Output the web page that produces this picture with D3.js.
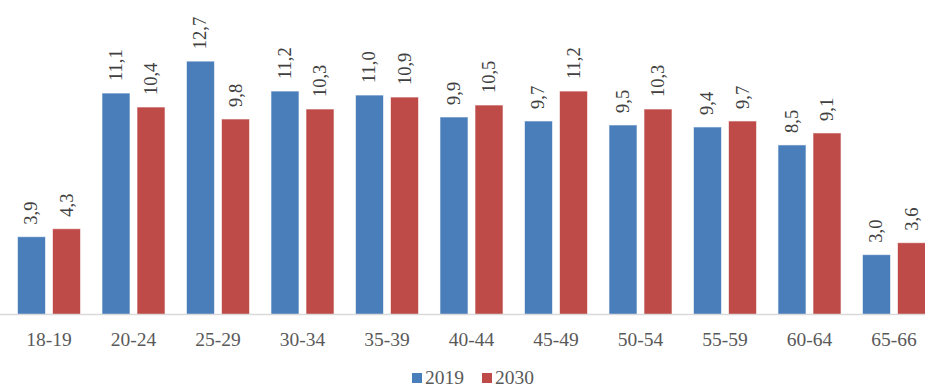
<!DOCTYPE html>
<html>
<head>
<meta charset="utf-8">
<script src="https://cdn.jsdelivr.net/npm/d3@7"></script>
<style>
  html, body { margin: 0; padding: 0; background: #fff; }
  svg { display: block; }
</style>
</head>
<body>
<svg id="chart" width="925" height="389"></svg>
<script>
// Age groups and shares (%) for the two years
const categories = ["18-19", "20-24", "25-29", "30-34", "35-39", "40-44", "45-49", "50-54", "55-59", "60-64", "65-66"];
const seriesNames = ["2019", "2030"];
const values2019 = [3.9, 11.1, 12.7, 11.2, 11.0, 9.9, 9.7, 9.5, 9.4, 8.5, 3.0];
const values2030 = [4.3, 10.4, 9.8, 10.3, 10.9, 10.5, 11.2, 10.3, 9.7, 9.1, 3.6];
const colors = ["#4A7EBB", "#BE4B48"];

const FONT = "Liberation Serif";
const svg = d3.select("#chart");
const baseY = 314.5;

const x0 = d3.scaleBand().domain(categories).range([6.75, 936.25]).paddingInner(0.254).paddingOuter(0.127);
const x1 = d3.scaleBand().domain(seriesNames).range([0, x0.bandwidth()]).paddingInner(0.2);
const y = d3.scaleLinear().domain([0, 14]).range([baseY, baseY - 14 * 19.95]);

const fmt = v => d3.format(".1f")(v).replace(".", ",");

const rows = categories.map((c, i) => ({ cat: c, vals: [values2019[i], values2030[i]] }));

const groups = svg.append("g").selectAll("g")
  .data(rows).join("g")
  .attr("transform", d => `translate(${x0(d.cat)},0)`);

groups.selectAll("rect")
  .data(d => d.vals.map((v, k) => ({ key: seriesNames[k], v, k })))
  .join("rect")
  .attr("x", d => x1(d.key))
  .attr("width", x1.bandwidth())
  .attr("y", d => y(d.v))
  .attr("height", d => y(0) - y(d.v))
  .attr("fill", d => colors[d.k])
  .attr("stroke", "#ffffff")
  .attr("stroke-opacity", 0.6)
  .attr("stroke-width", 1);

// Value labels, rotated, above each bar
groups.selectAll("text.val")
  .data(d => d.vals.map((v, k) => ({ key: seriesNames[k], v, k })))
  .join("text")
  .attr("class", "val")
  .attr("transform", d => `translate(${x1(d.key) + x1.bandwidth() / 2 + 6},${y(d.v) - 12}) rotate(-90)`)
  .attr("text-anchor", "start")
  .attr("font-family", FONT)
  .attr("font-size", 18.5)
  .attr("fill", "#404040")
  .text(d => fmt(d.v));

// Category axis
const axis = svg.append("g").attr("transform", `translate(0,${baseY})`)
  .call(d3.axisBottom(x0).tickSize(0).tickPadding(18));
axis.attr("font-family", FONT);
axis.select(".domain").remove();
axis.selectAll("text")
  .attr("font-family", FONT)
  .attr("font-size", 19.5)
  .attr("fill", "#595959");
svg.append("line")
  .attr("x1", 0).attr("x2", 925)
  .attr("y1", baseY).attr("y2", baseY)
  .attr("stroke", "#D9D9D9").attr("stroke-width", 1.5);

// Legend
const legend = svg.append("g").attr("transform", "translate(412,373)");
const legendItems = legend.selectAll("g").data(seriesNames).join("g")
  .attr("transform", (d, i) => `translate(${i * 70},0)`);
legendItems.append("rect")
  .attr("width", 10).attr("height", 10).attr("y", 0)
  .attr("fill", (d, i) => colors[i]);
legendItems.append("text")
  .attr("x", 13).attr("y", 11)
  .attr("font-family", FONT)
  .attr("font-size", 19.5)
  .attr("fill", "#595959")
  .text(d => d);
</script>
</body>
</html>
